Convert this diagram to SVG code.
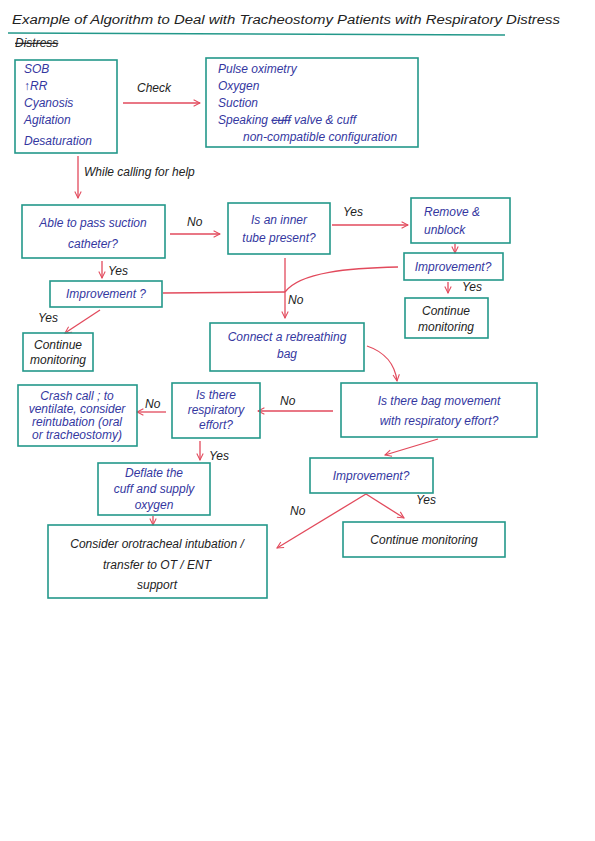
<svg xmlns="http://www.w3.org/2000/svg" width="595" height="841" viewBox="0 0 595 841">
<style>
.box{fill:none;stroke:#23988a;stroke-width:1.6}
.ln{fill:none;stroke:#e24a5c;stroke-width:1.3}
.t{font-family:"Liberation Sans",Arial,sans-serif;font-style:italic;font-size:12px;fill:#34379f}
.k{font-family:"Liberation Sans",Arial,sans-serif;font-style:italic;font-size:12px;fill:#222}
.s{text-decoration:line-through}
</style>
<defs>
<marker id="ah" viewBox="0 0 10 10" refX="9" refY="5" markerWidth="8" markerHeight="8" orient="auto" markerUnits="userSpaceOnUse">
<path d="M1,1 L9,5 L1,9" fill="none" stroke="#e24a5c" stroke-width="1.3"/>
</marker>
</defs>
<rect width="595" height="841" fill="#fff"/>
<g id="title">
<text class="k" x="12" y="24" font-size="13" textLength="548" lengthAdjust="spacingAndGlyphs">Example of Algorithm to Deal with Tracheostomy Patients with Respiratory Distress</text>
<path d="M8,33 L505,35" stroke="#23988a" stroke-width="1.5" fill="none"/>
<text class="k s" x="15" y="47" font-size="11">Distress</text>
</g>
<g id="connectors">
<path class="ln" d="M123,103 L200,103" marker-end="url(#ah)"/>
<path class="ln" d="M78,156 L78,198" marker-end="url(#ah)"/>
<path class="ln" d="M170,234 L220,234" marker-end="url(#ah)"/>
<path class="ln" d="M332,225 L408,225" marker-end="url(#ah)"/>
<path class="ln" d="M455,244 L455,253" marker-end="url(#ah)"/>
<path class="ln" d="M448,282 L448,293" marker-end="url(#ah)"/>
<path class="ln" d="M398,267 C350,268 300,272 285,292"/>
<path class="ln" d="M285,258 L285,318" marker-end="url(#ah)"/>
<path class="ln" d="M163,293 L285,292"/>
<path class="ln" d="M102,261 L102,278" marker-end="url(#ah)"/>
<path class="ln" d="M100,310 L65,333" marker-end="url(#ah)"/>
<path class="ln" d="M367,346 C385,352 395,365 397,381" marker-end="url(#ah)"/>
<path class="ln" d="M333,411 L258,411" marker-end="url(#ah)"/>
<path class="ln" d="M166,412 L137,412" marker-end="url(#ah)"/>
<path class="ln" d="M200,441 L200,460" marker-end="url(#ah)"/>
<path class="ln" d="M153,516 L153,525" marker-end="url(#ah)"/>
<path class="ln" d="M438,439 L385,455" marker-end="url(#ah)"/>
<path class="ln" d="M366,494 L404,518" marker-end="url(#ah)"/>
<path class="ln" d="M366,494 L277,548" marker-end="url(#ah)"/>
<text class="k" x="137" y="92">Check</text>
<text class="k" x="84" y="176">While calling for help</text>
<text class="k" x="187" y="226">No</text>
<text class="k" x="343" y="216">Yes</text>
<text class="k" x="462" y="291" font-size="11">Yes</text>
<text class="k" x="288" y="304" font-size="11">No</text>
<text class="k" x="108" y="275" font-size="11">Yes</text>
<text class="k" x="38" y="322" font-size="11">Yes</text>
<text class="k" x="280" y="405">No</text>
<text class="k" x="145" y="408" font-size="11">No</text>
<text class="k" x="209" y="460" font-size="11">Yes</text>
<text class="k" x="416" y="504" font-size="11">Yes</text>
<text class="k" x="290" y="515" font-size="11">No</text>
</g>
<g id="symptoms">
<rect class="box" x="15" y="60" width="102" height="93"/>
<text class="t" x="24" y="73" font-size="11">SOB</text>
<text class="t" x="24" y="90">↑RR</text>
<text class="t" x="24" y="107">Cyanosis</text>
<text class="t" x="24" y="124">Agitation</text>
<text class="t" x="24" y="145">Desaturation</text>
</g>
<g id="check">
<rect class="box" x="206" y="58" width="212" height="89"/>
<text class="t" x="218" y="73">Pulse oximetry</text>
<text class="t" x="218" y="90">Oxygen</text>
<text class="t" x="218" y="107">Suction</text>
<text class="t" x="218" y="124">Speaking <tspan class="s">cuff</tspan> valve &amp; cuff</text>
<text class="t" x="243" y="141">non-compatible configuration</text>
</g>
<g id="suction">
<rect class="box" x="22" y="205" width="143" height="53"/>
<text class="t" x="93" y="227" text-anchor="middle" font-size="13">Able to pass suction</text>
<text class="t" x="93" y="248" text-anchor="middle" font-size="13">catheter?</text>
</g>
<g id="innertube">
<rect class="box" x="228" y="203" width="102" height="51"/>
<text class="t" x="279" y="224" text-anchor="middle" font-size="13">Is an inner</text>
<text class="t" x="279" y="242" text-anchor="middle" font-size="13">tube present?</text>
</g>
<g id="remove">
<rect class="box" x="411" y="198" width="99" height="45"/>
<text class="t" x="424" y="216">Remove &amp;</text>
<text class="t" x="424" y="234">unblock</text>
</g>
<g id="improve1">
<rect class="box" x="404" y="253" width="99" height="27"/>
<text class="t" x="453" y="271" text-anchor="middle">Improvement?</text>
</g>
<g id="continue1">
<rect class="box" x="405" y="298" width="83" height="40"/>
<text class="k" x="446" y="315" text-anchor="middle" font-size="11">Continue</text>
<text class="k" x="446" y="331" text-anchor="middle" font-size="11">monitoring</text>
</g>
<g id="improve2">
<rect class="box" x="50" y="281" width="112" height="26"/>
<text class="t" x="106" y="298" text-anchor="middle">Improvement ?</text>
</g>
<g id="continue2">
<rect class="box" x="23" y="333" width="70" height="38"/>
<text class="k" x="58" y="349" text-anchor="middle" font-size="11">Continue</text>
<text class="k" x="58" y="364" text-anchor="middle" font-size="11">monitoring</text>
</g>
<g id="rebreathing">
<rect class="box" x="210" y="323" width="154" height="48"/>
<text class="t" x="287" y="341" text-anchor="middle">Connect a rebreathing</text>
<text class="t" x="287" y="358" text-anchor="middle">bag</text>
</g>
<g id="bagmovement">
<rect class="box" x="341" y="383" width="196" height="54"/>
<text class="t" x="439" y="405" text-anchor="middle" font-size="13">Is there bag movement</text>
<text class="t" x="439" y="425" text-anchor="middle" font-size="13">with respiratory effort?</text>
</g>
<g id="respeffort">
<rect class="box" x="172" y="383" width="88" height="55"/>
<text class="t" x="216" y="399" text-anchor="middle">Is there</text>
<text class="t" x="216" y="414" text-anchor="middle">respiratory</text>
<text class="t" x="216" y="429" text-anchor="middle">effort?</text>
</g>
<g id="crash">
<rect class="box" x="18" y="385" width="119" height="61"/>
<text class="t" x="77" y="400" text-anchor="middle" font-size="11">Crash call ; to</text>
<text class="t" x="77" y="413" text-anchor="middle" font-size="11">ventilate, consider</text>
<text class="t" x="77" y="426" text-anchor="middle" font-size="11">reintubation (oral</text>
<text class="t" x="77" y="439" text-anchor="middle" font-size="11">or tracheostomy)</text>
</g>
<g id="deflate">
<rect class="box" x="98" y="463" width="112" height="52"/>
<text class="t" x="154" y="477" text-anchor="middle">Deflate the</text>
<text class="t" x="154" y="493" text-anchor="middle">cuff and supply</text>
<text class="t" x="154" y="509" text-anchor="middle">oxygen</text>
</g>
<g id="consider">
<rect class="box" x="48" y="525" width="219" height="73"/>
<text class="k" x="157" y="548" text-anchor="middle" font-size="13">Consider orotracheal intubation /</text>
<text class="k" x="157" y="569" text-anchor="middle" font-size="13">transfer to OT / ENT</text>
<text class="k" x="157" y="589" text-anchor="middle" font-size="13">support</text>
</g>
<g id="improve3">
<rect class="box" x="310" y="458" width="123" height="35"/>
<text class="t" x="371" y="480" text-anchor="middle" font-size="13">Improvement?</text>
</g>
<g id="continue3">
<rect class="box" x="343" y="522" width="162" height="35"/>
<text class="k" x="424" y="544" text-anchor="middle" font-size="13">Continue monitoring</text>
</g>
</svg>
